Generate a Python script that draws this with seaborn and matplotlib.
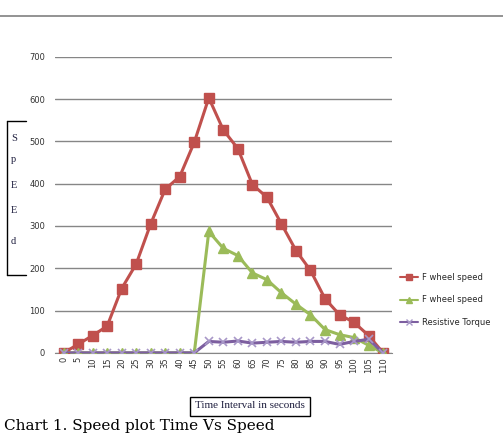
import numpy as np
import pandas as pd
import seaborn as sns
import matplotlib.pyplot as plt
from matplotlib.lines import Line2D

sns.set_style("white")

# data
time_labels = ["0", "5", "10", "15", "20", "25", "30", "35", "40", "45", "50", "55",
               "60", "65", "70", "75", "80", "85", "90", "95", "100", "105", "110"]
f_wheel_red = [0, 20, 41, 63, 152, 210, 305, 387, 417, 498, 603, 527,
               483, 398, 368, 305, 242, 195, 128, 90, 72, 41, 0]
f_wheel_green = [0, 0, 0, 0, 0, 0, 0, 0, 0, 0, 287, 247,
                 230, 189, 173, 142, 115, 90, 55, 43, 36, 18, 0]
resistive_torque = [0, 0, 0, 0, 0, 0, 0, 0, 0, 0, 27, 25,
                    28, 23, 25, 27, 25, 27, 27, 20, 27, 32, 0]
y_ticks = [0, 100, 200, 300, 400, 500, 600, 700]

series_names = ["F wheel speed", "F wheel speed", "Resistive Torque"]
colors = ["#C0504D", "#9BBB59", "#7D5FA0"]
marker_colors = ["#C0504D", "#9BBB59", "#A898C8"]
markers = ["s", "^", "x"]

fig = plt.figure(figsize=(5.03, 4.34), dpi=100)
ax = fig.add_axes([0.109, 0.187, 0.670, 0.682])

pos = np.arange(len(time_labels))
for vals, c, mc, m in zip([f_wheel_red, f_wheel_green, resistive_torque],
                          colors, marker_colors, markers):
    df = pd.DataFrame({"t": pos, "v": vals})
    sns.lineplot(data=df, x="t", y="v", ax=ax, color=c, linewidth=2.2,
                 marker=m, markersize=6.5 if m != "x" else 6,
                 markerfacecolor=mc, markeredgecolor=mc,
                 markeredgewidth=1 if m != "x" else 1.2, zorder=3)

ax.set_xlim(-0.6, len(time_labels) - 0.4)
ax.set_ylim(0, 700)
ax.set_yticks(y_ticks)
ax.set_yticklabels([str(v) for v in y_ticks], fontsize=6, color="#333333")
ax.set_xticks(pos)
ax.set_xticklabels(time_labels, rotation=90, fontsize=6, color="#333333")
ax.set_xticks(pos[:-1] + 0.5, minor=True)
ax.tick_params(axis="x", which="major", length=0, pad=3)
ax.tick_params(axis="x", which="minor", length=3, color="#868686", direction="out")
ax.tick_params(axis="y", length=0, pad=7)
ax.grid(axis="y", color="#868686", linewidth=1)
ax.set_axisbelow(True)
for s in ["left", "right", "top"]:
    ax.spines[s].set_visible(False)
ax.spines["bottom"].set_color("#868686")
ax.set_xlabel("")
ax.set_ylabel("")

handles = [Line2D([], [], color=c, marker=m, markerfacecolor=mc, markeredgecolor=mc,
                  markersize=4, linewidth=1.5)
           for c, mc, m in zip(colors, marker_colors, markers)]
fig.legend(handles, series_names, loc="upper left", bbox_to_anchor=(0.78, 0.388),
           frameon=False, fontsize=6, handlelength=2.2, labelspacing=1.6,
           handletextpad=0.4)

# boxed vertical y label (bracket)
fig.add_artist(Line2D([7 / 503, 7 / 503], [1 - 121 / 434, 1 - 275 / 434], color="black", lw=1))
fig.add_artist(Line2D([7 / 503, 26 / 503], [1 - 121 / 434, 1 - 121 / 434], color="black", lw=1))
fig.add_artist(Line2D([7 / 503, 26 / 503], [1 - 275 / 434, 1 - 275 / 434], color="black", lw=1))
for ch, yy in zip("SpEEd", [138, 160, 185, 211, 241]):
    fig.text(11 / 503, 1 - yy / 434, ch, fontsize=7.5, family="Liberation Serif",
             color="#1f1f3f", va="center", ha="left")

# boxed x label
fig.text(250 / 503, 1 - 406 / 434, "Time Interval in seconds", fontsize=8,
         family="Liberation Serif", color="#1f1f3f", ha="center", va="center",
         bbox=dict(boxstyle="square,pad=0.45", facecolor="white", edgecolor="black", lw=1))

# caption and page rule
fig.text(4 / 503, 1 - 433 / 434, "Chart 1. Speed plot Time Vs Speed", fontsize=11,
         family="DejaVu Serif", color="black", ha="left", va="bottom")
fig.add_artist(Line2D([0, 1], [1 - 16 / 434, 1 - 16 / 434], color="#808080", lw=1.2))

fig.savefig("out.png", dpi=100)
